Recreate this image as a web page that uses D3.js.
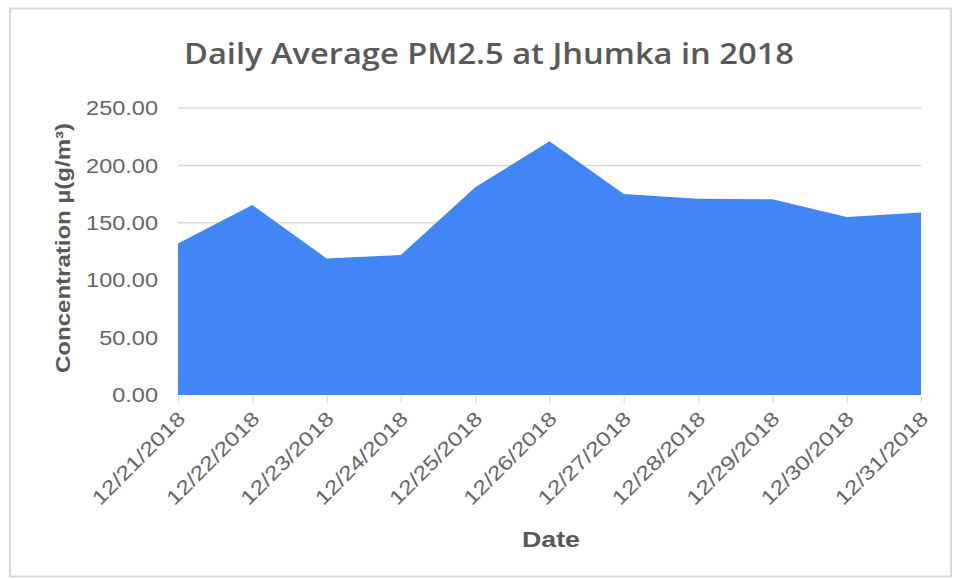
<!DOCTYPE html>
<html>
<head>
<meta charset="utf-8">
<script src="https://cdn.jsdelivr.net/npm/d3@7"></script>
<style>
  html, body { margin: 0; padding: 0; background: #fff; }
  svg { display: block; }
</style>
</head>
<body>
<svg id="chart" width="957" height="580"></svg>
<script>
const title = "Daily Average PM2.5 at Jhumka in 2018";
const xTitle = "Date";
const yTitle = "Concentration \u00B5(g/m\u00B3)";
const dates = ["12/21/2018","12/22/2018","12/23/2018","12/24/2018","12/25/2018","12/26/2018","12/27/2018","12/28/2018","12/29/2018","12/30/2018","12/31/2018"];
const pm25 = [132, 165.5, 119, 122, 181, 221, 175, 171, 170.5, 155, 159];
const yTicks = [0, 50, 100, 150, 200, 250];

const svg = d3.select("#chart");
const W = 957, H = 580;
const margin = {left: 178, right: 36, top: 108, bottom: 185};
const sx = 1.12; // horizontal stretch of text seen in the reference

// outer frame
svg.append("rect").attr("x", 0).attr("y", 0).attr("width", W).attr("height", H).attr("fill", "#fff");
svg.append("rect").attr("x", 10).attr("y", 8.5).attr("width", 941).attr("height", 568)
  .attr("fill", "#fff").attr("stroke", "#d9d9d9").attr("stroke-width", 2);

const x = d3.scalePoint().domain(dates).range([margin.left, W - margin.right]);
const y = d3.scaleLinear().domain([0, 250]).range([H - margin.bottom, margin.top]);

// gridlines
const gy = svg.append("g").attr("class", "grid");
gy.selectAll("line").data(yTicks.filter(d => d > 0)).join("line")
  .attr("x1", margin.left).attr("x2", W - margin.right)
  .attr("y1", d => y(d)).attr("y2", d => y(d))
  .attr("stroke", "#d9d9d9").attr("stroke-width", 1.5);

// area
const area = d3.area()
  .x((d, i) => x(dates[i]))
  .y0(y(0))
  .y1(d => y(d));
svg.append("path").datum(pm25).attr("d", area).attr("fill", "#4285f4");

// y axis
const yAxis = d3.axisLeft(y).tickValues(yTicks).tickFormat(d3.format(".2f")).tickSize(0).tickPadding(0);
const ya = svg.append("g").attr("transform", `translate(${margin.left},0)`).call(yAxis);
ya.select(".domain").remove();
ya.selectAll("text")
  .attr("font-family", "Liberation Sans, Arial, sans-serif")
  .attr("font-size", 21).attr("fill", "#666")
  .attr("x", -20 / sx)
  .attr("transform", `scale(${sx},1)`);

// x axis
const xAxis = d3.axisBottom(x).tickSize(7).tickPadding(0);
const xa = svg.append("g").attr("transform", `translate(0,${y(0) + 1})`).call(xAxis);
xa.select(".domain").remove();
xa.selectAll(".tick line").attr("stroke", "#e0e0e0").attr("stroke-width", 1.5);
xa.selectAll("text")
  .attr("font-family", "Liberation Sans, Arial, sans-serif")
  .attr("font-size", 20).attr("fill", "#666")
  .attr("text-anchor", "end")
  .attr("x", 0).attr("y", 0).attr("dy", 0)
  .attr("textLength", 122).attr("lengthAdjust", "spacingAndGlyphs")
  .attr("transform", "translate(8,24) rotate(-45)");

// title
svg.append("text").attr("x", 489).attr("y", 64).attr("text-anchor", "middle")
  .attr("font-family", "Open Sans, sans-serif").attr("font-weight", 600)
  .attr("font-size", 29).attr("fill", "#595959")
  .attr("textLength", 610).attr("lengthAdjust", "spacingAndGlyphs")
  .text(title);

// axis titles
svg.append("text").attr("x", 551).attr("y", 547).attr("text-anchor", "middle")
  .attr("font-family", "Liberation Sans, Arial, sans-serif").attr("font-weight", "bold")
  .attr("font-size", 22).attr("fill", "#595959")
  .attr("textLength", 58).attr("lengthAdjust", "spacingAndGlyphs")
  .text(xTitle);

svg.append("text").attr("transform", "translate(70,248) rotate(-90)").attr("text-anchor", "middle")
  .attr("font-family", "Liberation Sans, Arial, sans-serif").attr("font-weight", "bold")
  .attr("font-size", 20).attr("fill", "#595959")
  .attr("textLength", 250).attr("lengthAdjust", "spacingAndGlyphs")
  .text(yTitle);
</script>
</body>
</html>
